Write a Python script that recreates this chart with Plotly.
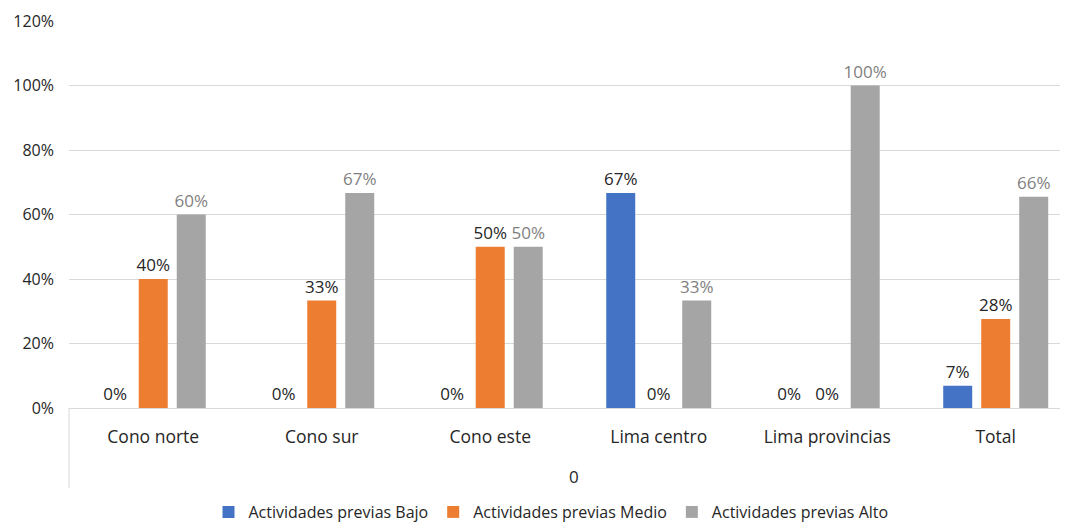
import plotly.graph_objects as go

categories = ["Cono norte", "Cono sur", "Cono este", "Lima centro", "Lima provincias", "Total"]
bajo = [0.0, 0.0, 0.0, 0.6667, 0.0, 0.069]
medio = [0.40, 0.3333, 0.50, 0.0, 0.0, 0.276]
alto = [0.60, 0.6667, 0.50, 0.3333, 1.00, 0.655]
series_names = ["Actividades previas Bajo", "Actividades previas Medio", "Actividades previas Alto"]
colors = ["#4472C4", "#ED7D31", "#A5A5A5"]
label_colors = ["#262626", "#262626", "#7F7F7F"]
group_label = "0"

FONT = "Open Sans"
fig = go.Figure()
for name, vals, c, lc in zip(series_names, [bajo, medio, alto], colors, label_colors):
    fig.add_trace(go.Bar(
        x=categories, y=vals, name=name,
        marker=dict(color=c, line=dict(width=0)),
        texttemplate="%{y:.0%}", textposition="outside",
        textfont=dict(family=FONT, size=17, color=lc),
        constraintext="none", cliponaxis=False,
        hoverinfo="skip",
    ))

# page body has an 8px margin: figure coords = screen coords - 8
OFF = 8
W, H = 1068 - OFF, 525 - OFF
L, R, T = 69 - OFF, 0, 21 - OFF
plot_bottom = 408 - OFF
B = H - plot_bottom
plot_h = plot_bottom - T

fig.update_layout(
    width=W, height=H,
    margin=dict(l=L, r=R, t=T, b=B, pad=0, autoexpand=False),
    barmode="group", bargap=0.3235, bargroupgap=0.237,
    plot_bgcolor="white", paper_bgcolor="white",
    font=dict(family=FONT, color="#262626"),
    showlegend=True,
    legend=dict(
        orientation="h", xref="container", yref="container",
        x=(551 - OFF) / W, xanchor="center", y=1 - (512 - OFF) / H, yanchor="middle",
        font=dict(family=FONT, size=16, color="#262626"),
        itemwidth=30, traceorder="normal",
    ),
    xaxis=dict(
        type="category", range=[-0.5, 5.429],
        showline=True, linecolor="#D9D9D9", linewidth=1,
        showgrid=False, ticks="", ticklabelstandoff=13,
        tickfont=dict(family=FONT, size=17.5, color="#262626"),
    ),
    yaxis=dict(
        range=[0, 1.2], dtick=0.2, tickformat=".0%",
        showgrid=True, gridcolor="#D9D9D9", gridwidth=1,
        zeroline=False, showline=False, ticks="",
        ticklabelstandoff=14,
        tickfont=dict(family=FONT, size=16, color="#262626"),
    ),
    shapes=[dict(type="line", xref="paper", yref="paper",
                 x0=0, x1=0, y0=0, y1=-80 / plot_h,
                 line=dict(color="#D9D9D9", width=1))],
    annotations=[dict(text=group_label, xref="x", yref="paper",
                      x=2.5, y=-(476 - 408) / plot_h, yanchor="middle",
                      showarrow=False,
                      font=dict(family=FONT, size=17, color="#262626"))],
)

fig.write_html("out.html")
